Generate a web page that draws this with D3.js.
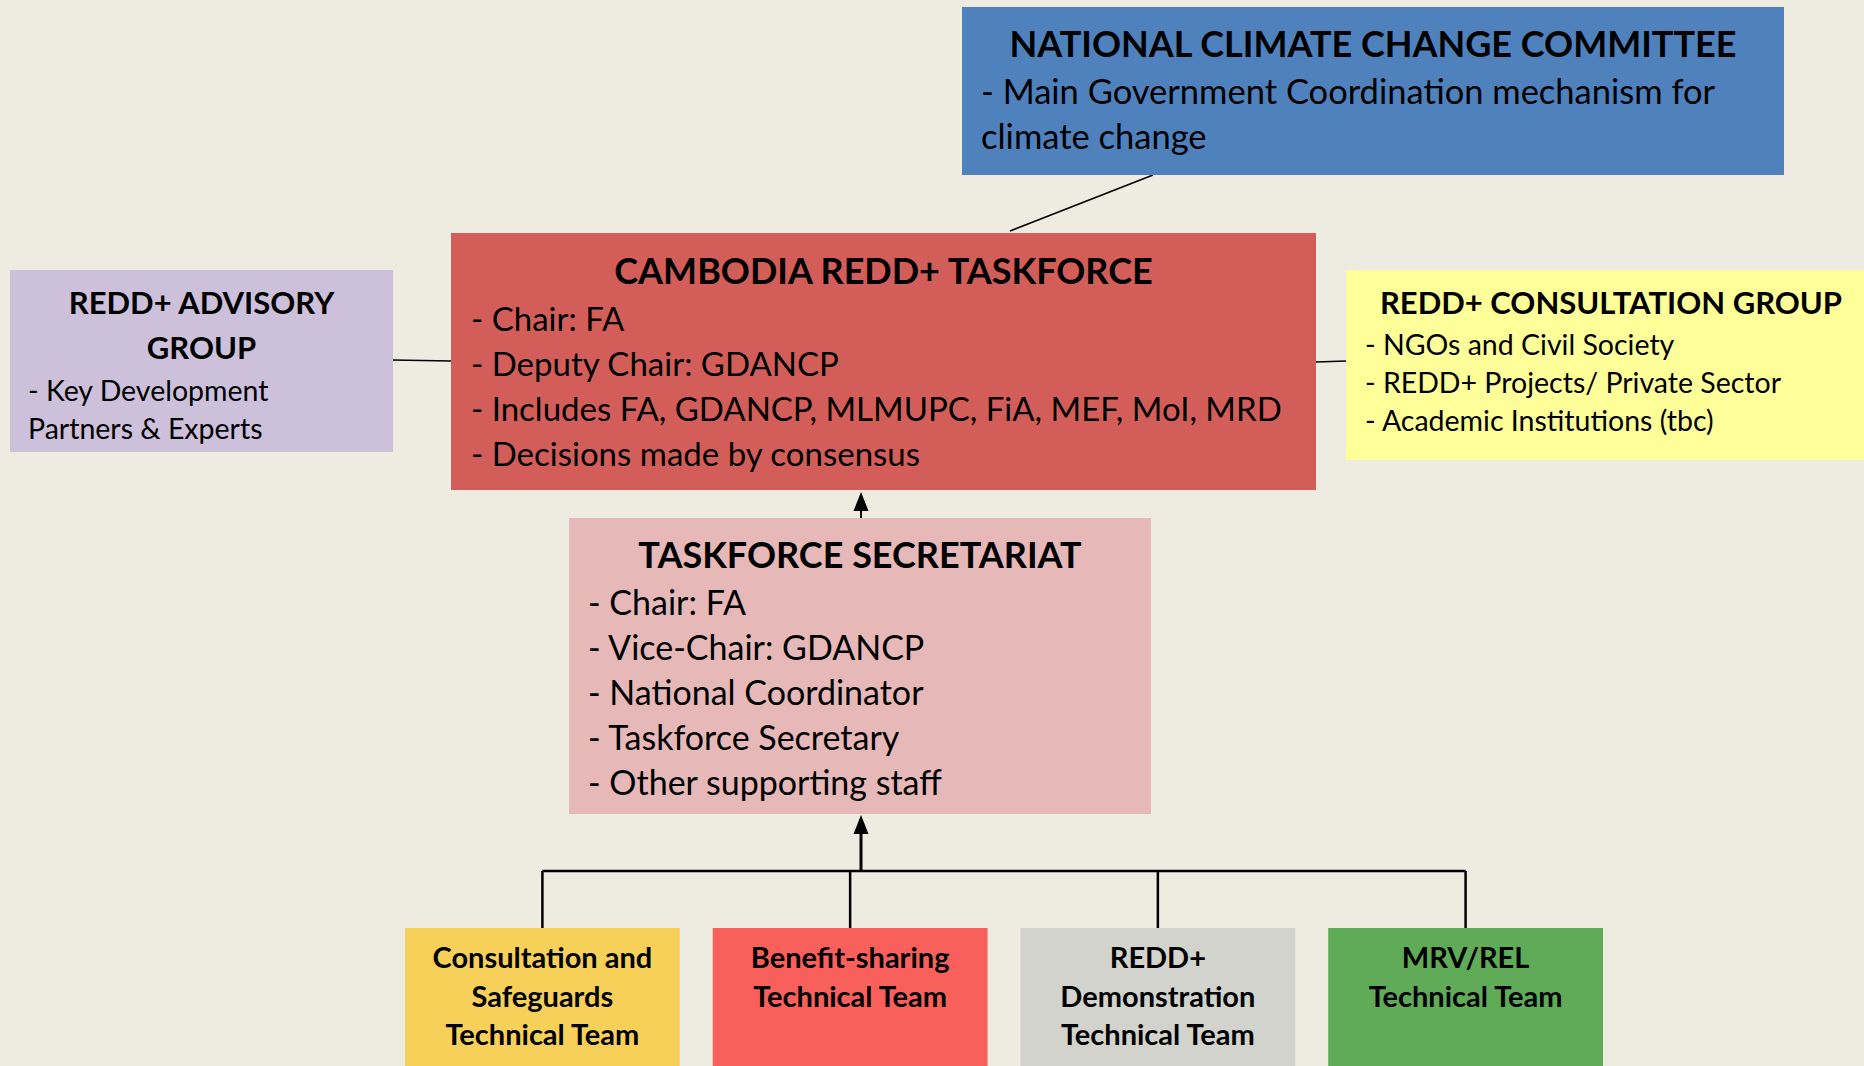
<!DOCTYPE html>
<meta charset="utf-8">
<html>
<head>
  <title>Cambodia REDD+ Taskforce structure</title>
  <script src="https://d3js.org/d3.v7.min.js"></script>
  <style>
    body { margin: 0; background: #eeece1; }
    svg { display: block; }
    text { font-family: Lato, "Open Sans", sans-serif; fill: #000; }
  </style>
</head>
<body>
<script>

// ---- chart content ----
var bodyNames  = ["nccc", "taskforce", "advisory", "consultation", "secretariat"];
var bodyTitles = [
  ["NATIONAL CLIMATE CHANGE COMMITTEE"],
  ["CAMBODIA REDD+ TASKFORCE"],
  ["REDD+ ADVISORY", "GROUP"],
  ["REDD+ CONSULTATION GROUP"],
  ["TASKFORCE SECRETARIAT"]
];
var bodyLines = [
  ["- Main Government Coordination mechanism for", "climate change"],
  ["- Chair: FA", "- Deputy Chair: GDANCP", "- Includes FA, GDANCP, MLMUPC, FiA, MEF, MoI, MRD", "- Decisions made by consensus"],
  ["- Key Development", "Partners & Experts"],
  ["- NGOs and Civil Society", "- REDD+ Projects/ Private Sector", "- Academic Institutions (tbc)"],
  ["- Chair: FA", "- Vice-Chair: GDANCP", "- National Coordinator", "- Taskforce Secretary", "- Other supporting staff"]
];
var teamNames = [
  ["Consultation and", "Safeguards", "Technical Team"],
  ["Benefit-sharing", "Technical Team"],
  ["REDD+", "Demonstration", "Technical Team"],
  ["MRV/REL", "Technical Team"]
];

// ---- layout (pixels) ----
var width = 1864, height = 1066;
var layout = {
  nccc:         {x: 962,  y: 7,   w: 822, h: 168, tSize: 36, bSize: 34.5, lh: 45, tY: 37,  bY: 85,  bX: 19, fill: "#4f81bd"},
  taskforce:    {x: 451,  y: 233, w: 865, h: 257, tSize: 36, bSize: 33,   lh: 45, tY: 38,  bY: 86,  bX: 20, fill: "#d35e59"},
  advisory:     {x: 10,   y: 270, w: 383, h: 182, tSize: 31, bSize: 28.5, lh: 45, tY: 33,  bY: 121, bX: 18, fill: "#ccc0da", bLh: 38},
  consultation: {x: 1346, y: 270, w: 530, h: 190, tSize: 31, bSize: 28.5, lh: 38, tY: 33,  bY: 75,  bX: 19, fill: "#ffff99"},
  secretariat:  {x: 569,  y: 518, w: 582, h: 296, tSize: 36, bSize: 34,   lh: 45, tY: 37,  bY: 85,  bX: 19, fill: "#e6b8b7"}
};
var teamFills = ["#f7d05a", "#f95f5b", "#d2d3cc", "#60ab58"];
var teamTop = 928, teamBarY = 871;
var spineX = 861;

var svg = d3.select("body").append("svg")
    .attr("width", width)
    .attr("height", height);

svg.append("rect").attr("width", width).attr("height", height).attr("fill", "#eeece1");

// connectors first, boxes drawn over them
var links = svg.append("g").attr("stroke", "#000").attr("fill", "none");
var L = layout;

function arrowUp(x, yFrom, yTip, sw) {
  var headH = 19, headW = 15;
  links.append("line")
      .attr("x1", x).attr("y1", yFrom)
      .attr("x2", x).attr("y2", yTip + headH - 2)
      .attr("stroke-width", sw);
  var p = d3.path();
  p.moveTo(x, yTip);
  p.lineTo(x + headW / 2, yTip + headH);
  p.lineTo(x - headW / 2, yTip + headH);
  p.closePath();
  links.append("path")
      .attr("d", p.toString())
      .attr("stroke", "none")
      .attr("fill", "#000");
}

links.append("line")
    .attr("x1", 1153).attr("y1", L.nccc.y + L.nccc.h)
    .attr("x2", 1010).attr("y2", L.taskforce.y - 2)
    .attr("stroke-width", 1.6);
links.append("line")
    .attr("x1", L.advisory.x + L.advisory.w).attr("y1", 360)
    .attr("x2", L.taskforce.x).attr("y2", 361)
    .attr("stroke-width", 1.6);
links.append("line")
    .attr("x1", L.taskforce.x + L.taskforce.w).attr("y1", 362)
    .attr("x2", L.consultation.x).attr("y2", 361)
    .attr("stroke-width", 1.6);
arrowUp(spineX, L.secretariat.y, L.taskforce.y + L.taskforce.h + 2, 2);
arrowUp(spineX, teamBarY, L.secretariat.y + L.secretariat.h + 1, 3);

// bottom row via a band scale
var tx = d3.scaleBand()
    .domain(d3.range(teamNames.length))
    .range([405, 1603])
    .paddingInner(0.107);

links.append("line")
    .attr("x1", tx(0) + tx.bandwidth() / 2).attr("y1", teamBarY)
    .attr("x2", tx(teamNames.length - 1) + tx.bandwidth() / 2).attr("y2", teamBarY)
    .attr("stroke-width", 2.5);
links.selectAll(".drop")
    .data(teamNames)
  .enter().append("line")
    .attr("class", "drop")
    .attr("x1", function(d, i) { return tx(i) + tx.bandwidth() / 2; })
    .attr("x2", function(d, i) { return tx(i) + tx.bandwidth() / 2; })
    .attr("y1", teamBarY)
    .attr("y2", teamTop)
    .attr("stroke-width", 2.5);

// main boxes
var boxes = svg.selectAll(".box")
    .data(bodyNames)
  .enter().append("g")
    .attr("class", "box")
    .attr("transform", function(d) { return "translate(" + L[d].x + "," + L[d].y + ")"; });

boxes.append("rect")
    .attr("width", function(d) { return L[d].w; })
    .attr("height", function(d) { return L[d].h; })
    .attr("fill", function(d) { return L[d].fill; });

boxes.each(function(d, i) {
  var g = d3.select(this), c = L[d];
  var cx = d === "consultation" ? 265 : c.w / 2;
  g.selectAll(".title")
      .data(bodyTitles[i])
    .enter().append("text")
      .attr("class", "title")
      .attr("x", cx)
      .attr("y", function(t, j) { return c.tY + j * c.lh; })
      .attr("dy", "0.35em")
      .attr("text-anchor", "middle")
      .attr("font-weight", "bold")
      .attr("font-size", c.tSize)
      .text(function(t) { return t; });
  g.selectAll(".line")
      .data(bodyLines[i])
    .enter().append("text")
      .attr("class", "line")
      .attr("x", c.bX)
      .attr("y", function(t, j) { return c.bY + j * (c.bLh || c.lh); })
      .attr("dy", "0.35em")
      .attr("font-size", c.bSize)
      .text(function(t) { return t; });
});

// team boxes
var teams = svg.selectAll(".team")
    .data(teamNames)
  .enter().append("g")
    .attr("class", "team")
    .attr("transform", function(d, i) { return "translate(" + tx(i) + "," + teamTop + ")"; });

teams.append("rect")
    .attr("width", tx.bandwidth())
    .attr("height", height - teamTop)
    .attr("fill", function(d, i) { return teamFills[i]; });

teams.selectAll("text")
    .data(function(d) { return d; })
  .enter().append("text")
    .attr("x", tx.bandwidth() / 2)
    .attr("y", function(t, j) { return 30 + j * 38.5; })
    .attr("dy", "0.35em")
    .attr("text-anchor", "middle")
    .attr("font-weight", "bold")
    .attr("font-size", 29)
    .text(function(t) { return t; });

</script>
</body>
</html>
